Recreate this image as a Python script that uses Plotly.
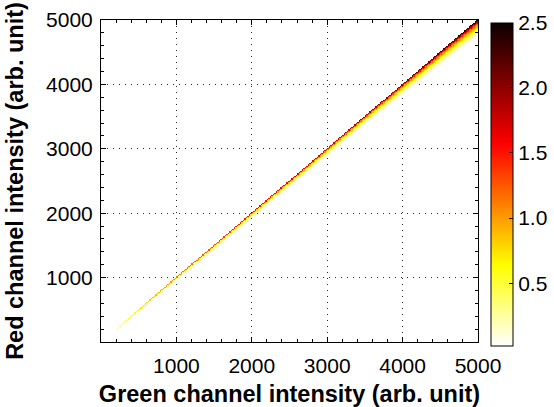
import numpy as np
import plotly.graph_objects as go

# ---- values ----
# anchor green intensities along the diagonal band
green_anchor = [200, 500, 1000, 1500, 2000, 2500, 3000, 3500, 4000, 4500, 5000]
# depth of the coloured band below the diagonal (red units)
band_depth = [25, 35, 50, 60, 75, 90, 105, 125, 150, 185, 240]
# colour value on the diagonal edge of the band
edge_value = [0.25, 0.7, 1.1, 1.3, 1.5, 1.6, 1.7, 1.85, 2.0, 2.2, 2.5]
# shape of the band across its depth (fraction of depth -> fraction of edge value)
depth_frac = [0.0, 0.1, 0.25, 0.5, 0.8, 1.0]
depth_level = [1.0, 0.75, 0.5, 0.3, 0.1, 0.02]

x_ticks = [1000, 2000, 3000, 4000, 5000]
y_ticks = [1000, 2000, 3000, 4000, 5000]
cbar_ticks = [0.5, 1.0, 1.5, 2.0, 2.5]
cbar_text = ["0.5", "1.0", "1.5", "2.0", "2.5"]
bin_size = 20

# ---- build the 2-D histogram table ----
centers = np.arange(bin_size / 2, 5000, bin_size)
z = [[None] * len(centers) for _ in centers]
for j, gx in enumerate(centers):
    if gx < green_anchor[0]:
        continue
    w = np.interp(gx, green_anchor, band_depth)
    pk = np.interp(gx, green_anchor, edge_value)
    for i, ry in enumerate(centers):
        d = gx - ry
        if -bin_size / 2 <= d <= w:
            f = max(d, 0) / w
            z[i][j] = float(pk * np.interp(f, depth_frac, depth_level))

hot_r = [
    [0.0, "rgb(255,255,255)"],
    [0.25, "rgb(255,255,0)"],
    [0.625, "rgb(255,0,0)"],
    [1.0, "rgb(11,0,0)"],
]

FONT = "Liberation Sans, Arial, sans-serif"

fig = go.Figure(
    go.Heatmap(
        x=centers,
        y=centers,
        z=z,
        colorscale=hot_r,
        zmin=0.02,
        zmax=2.5,
        zsmooth=False,
        hoverongaps=False,
        colorbar=dict(
            x=1.034,
            xanchor="left",
            xref="paper",
            y=0.9916,
            yanchor="top",
            len=323,
            lenmode="pixels",
            thickness=22,
            thicknessmode="pixels",
            outlinecolor="black",
            outlinewidth=1,
            ticks="inside",
            ticklen=4,
            tickcolor="black",
            tickvals=cbar_ticks,
            ticktext=cbar_text,
            tickfont=dict(family=FONT, size=21, color="black"),
            xpad=0,
            ypad=0,
        ),
    )
)

axis_common = dict(
    range=[0, 5000],
    showline=True,
    linecolor="black",
    linewidth=1,
    mirror="ticks",
    ticks="inside",
    ticklen=5,
    tickcolor="black",
    showgrid=True,
    gridcolor="rgb(40,40,40)",
    gridwidth=1,
    griddash="1px,5px",
    zeroline=False,
    tickfont=dict(family=FONT, size=21, color="black"),
    minor=dict(ticks="inside", ticklen=3, dtick=200, tickcolor="black", showgrid=False),
)

fig.update_xaxes(
    **axis_common,
    tickvals=x_ticks,
    ticktext=[str(v) for v in x_ticks],
    ticklabelstandoff=5,
    title=dict(
        text="<b>Green channel intensity (arb. unit)</b>",
        font=dict(family=FONT, size=23.5, color="black"),
        standoff=12,
    ),
)
fig.update_yaxes(
    **axis_common,
    tickvals=y_ticks,
    ticktext=[str(v) for v in y_ticks],
    ticklabelstandoff=3,
    title=dict(
        text="<b>Red channel intensity (arb. unit)</b>",
        font=dict(family=FONT, size=23.5, color="black"),
        standoff=15,
    ),
)

fig.update_layout(
    width=554,
    height=407,
    margin=dict(l=101, r=76, t=20, b=65, autoexpand=False),
    paper_bgcolor="white",
    plot_bgcolor="white",
    font=dict(family=FONT, color="black"),
)

fig.write_html(
    "out.html",
    config={"displayModeBar": False},
    post_script="document.body.style.margin='0';document.body.style.overflow='hidden';",
)
